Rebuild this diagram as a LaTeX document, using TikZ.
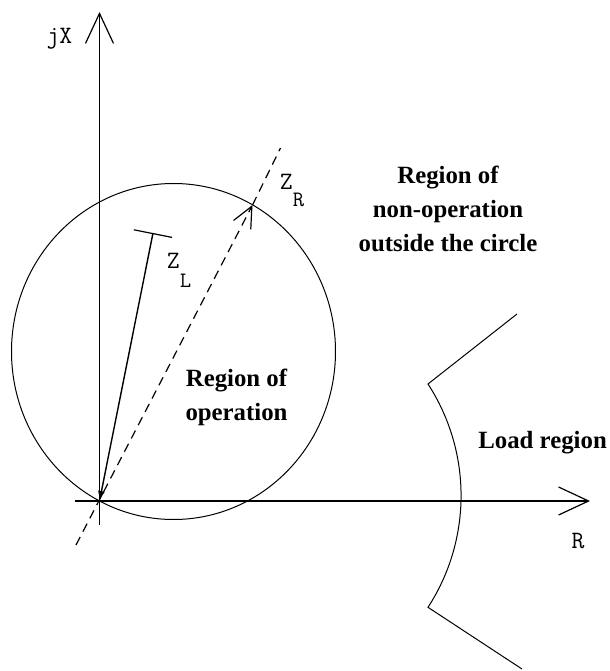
\documentclass[tikz,border=0pt]{standalone}
\usepackage{fontspec}
\setmainfont{Liberation Serif}
\usetikzlibrary{arrows.meta,positioning}

\begin{document}
\begin{tikzpicture}[
  x=0.5pt,y=0.5pt,
  axis/.style={line width=0.9pt,-{Straight Barb[length=15pt,width=14pt,line width=0.6pt]}},
  curve/.style={line width=0.5pt},
  zline/.style={line width=0.6pt,dash pattern=on 4.5pt off 3pt},
  regionlabel/.style={font=\fontsize{12.4}{17}\selectfont\bfseries,align=center,inner sep=0pt},
  axislabel/.style={font=\fontsize{12.5}{13}\selectfont\ttfamily,inner sep=0pt}]
  \useasboundingbox (-99.5,-170) rectangle (510.5,501);
  % axes
  \coordinate (O) at (0,0);
  \coordinate (xstart) at (-24.5,0);
  \coordinate (xend) at (490.5,0);
  \coordinate (ystart) at (0,-24);
  \coordinate (yend) at (0,489);
  \draw[axis] (xstart) -- (xend);
  \draw[axis] (ystart) -- (yend);
  \node[axislabel] (jx) at (-40,462.5) {jX};
  \node[axislabel] (r) at (478.5,-40.5) {R};
  % relay circle
  \coordinate (centre) at (74,149.5);
  \draw[curve] (centre) ellipse [x radius=162, y radius=168];
  % impedance lines
  \coordinate (zl) at (53.5,268);
  \draw[curve,line width=0.7pt,{Latex[length=5pt,width=3.5pt]}-{Bar[width=19.5pt,line width=0.6pt]}] (O) -- (zl);
  \node[axislabel,anchor=base west] (zllabel) at (67,233) {Z\raisebox{-9.5pt}{\fontsize{11}{12}\selectfont L}};
  \coordinate (zrlow) at (-23.5,-44);
  \coordinate (zr) at (153,296);
  \coordinate (zrtop) at (181,353);
  \draw[zline,-{Straight Barb[length=10.5pt,width=9.7pt,line width=0.6pt]}] (zrlow) -- (zr);
  \draw[zline] (zr) -- (zrtop);
  \node[axislabel,anchor=base west] (zrlabel) at (180,311) {Z\raisebox{-8.5pt}{\fontsize{11}{12}\selectfont R}};
  % load area
  \coordinate (ltop) at (417.5,187);
  \coordinate (lupper) at (328.5,117);
  \coordinate (llower) at (328.5,-106);
  \coordinate (lbottom) at (422.5,-168);
  \draw[curve] (ltop) -- (lupper) arc[start angle=33,end angle=-33,radius=205] -- (lbottom);
  % region texts
  \node[regionlabel] (operation) at (137,103.5) {Region of\\operation};
  \node[regionlabel] (nonop) at (348.5,292) {Region of\\non-operation\\outside the circle};
  \node[regionlabel,anchor=base west] (load) at (378.5,53) {Load region};
\end{tikzpicture}
\end{document}
